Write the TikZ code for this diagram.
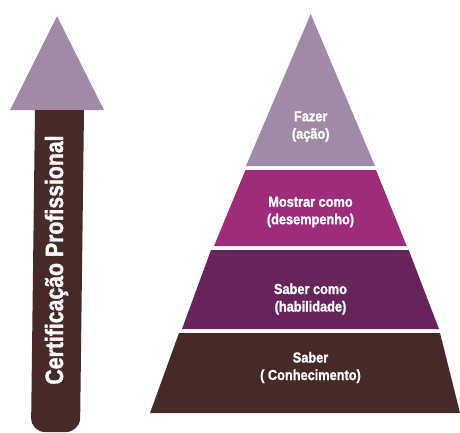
\documentclass[tikz,border=0pt]{standalone}
\usepackage{fontspec}
\setmainfont{Liberation Sans}[BoldFeatures={FakeBold=1.5}]
\definecolor{lilac}{HTML}{A08AA7}
\definecolor{magent}{HTML}{9D2C7B}
\definecolor{plum}{HTML}{67245B}
\definecolor{brownc}{HTML}{452A27}
\tikzset{
  lbl/.style={text=white, font=\bfseries\fontsize{14.5}{17.5}\selectfont, align=center, inner sep=0pt, xscale=0.88, transform shape},
  arrowlbl/.style={text=white, font=\bfseries\fontsize{25}{27}\selectfont, inner sep=0pt, rotate=90, xscale=0.85, transform shape}
}
\begin{document}
\begin{tikzpicture}[x=1pt,y=-1pt]
\useasboundingbox (0,0) rectangle (460,432);
% arrow
\fill[lilac] (57,16) -- (104,110) -- (10,110) -- cycle;
\path[fill=brownc] (35,110) [rounded corners=14pt] -- (31,432) -- (80,432) [sharp corners] -- (84,110) -- cycle;
\node[arrowlbl, anchor=base] (cert) at (63,260) {Certificação Profissional};
% pyramid
\fill[lilac] (310.7,14) -- (375,166) -- (246,166) -- cycle;
\fill[magent] (245.5,170) -- (376,170) -- (406.7,246) -- (214,246) -- cycle;
\fill[plum] (211,250) -- (408.7,250) -- (439,329) -- (182,329) -- cycle;
\fill[brownc] (179,333) -- (440,333) -- (460,413) -- (150,413) -- cycle;
\node[lbl] (fazer) at (310.7,126.5) {Fazer\\(ação)};
\node[lbl] (mostrar) at (310.5,212) {Mostrar como\\(desempenho)};
\node[lbl] (sabercomo) at (310.5,299) {Saber como\\(habilidade)};
\node[lbl] (saber) at (310.5,367.5) {Saber\\( Conhecimento)};
\end{tikzpicture}
\end{document}
